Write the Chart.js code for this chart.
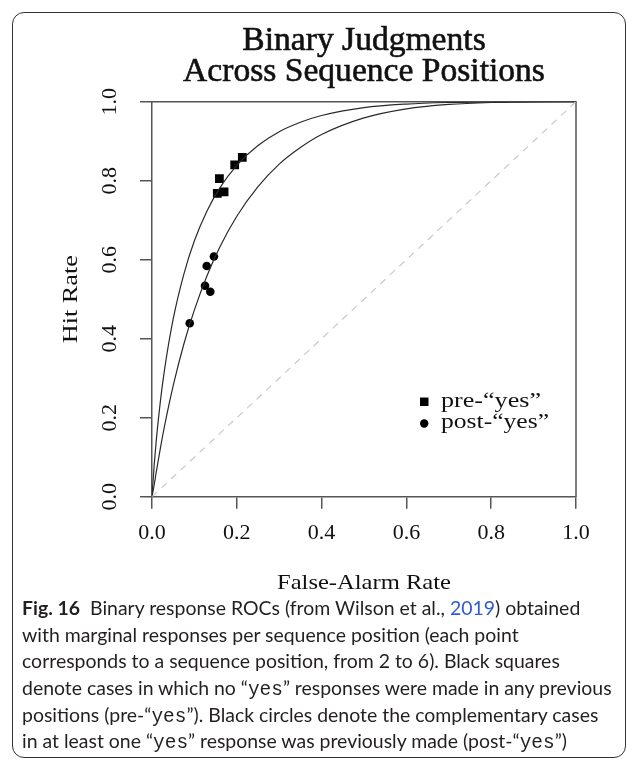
<!DOCTYPE html>
<html><head><meta charset="utf-8">
<script src="https://cdn.jsdelivr.net/npm/chart.js@4.4.1/dist/chart.umd.min.js"></script>
<style>
html,body{margin:0;padding:0;background:#fff;}
#wrap{position:relative;width:637px;height:759px;overflow:hidden;background:#fff;}
#card{position:absolute;left:12px;top:12px;width:614px;height:746px;border:1.3px solid #333;border-radius:12px;box-sizing:border-box;}
#c{position:absolute;left:0;top:0;}
.cap{position:absolute;left:22px;white-space:nowrap;font-family:Lato,"Open Sans",sans-serif;font-size:17px;color:#231f20;line-height:26px;}
.cap b{font-weight:700}
.cap code{font-family:"Liberation Mono",monospace;font-size:1em;}
.blue{color:#2f5bd0}
</style></head>
<body>
<div id="wrap">
<div id="card"></div>
<canvas id="c" width="637" height="759"></canvas>
<div class="cap" style="top:595px"><b>Fig. 16</b>&nbsp; Binary response ROCs (from Wilson et al., <span class="blue">2019</span>) obtained</div>
<div class="cap" style="top:622px">with marginal responses per sequence position (each point</div>
<div class="cap" style="top:648px">corresponds to a sequence position, from 2 to 6). Black squares</div>
<div class="cap" id="longest" style="top:675px">denote cases in which no “<code>yes</code>” responses were made in any previous</div>
<div class="cap" style="top:702px">positions (pre-“<code>yes</code>”). Black circles denote the complementary cases</div>
<div class="cap" style="top:728px">in at least one “<code>yes</code>” response was previously made (post-“<code>yes</code>”)</div>
</div>
<script>
// ---- data ----
const titleLines = ['Binary Judgments', 'Across Sequence Positions'];
const xAxisTitle = 'False-Alarm Rate';
const yAxisTitle = 'Hit Rate';
const xTickLabels = ['0.0', '0.2', '0.4', '0.6', '0.8', '1.0'];
const yTickLabels = ['0.0', '0.2', '0.4', '0.6', '0.8', '1.0'];
const tickValues = [0, 0.2, 0.4, 0.6, 0.8, 1.0];

// fitted ROC curves
const curveFalseAlarm = [0, 0.005, 0.01, 0.02, 0.03, 0.05, 0.075, 0.1, 0.13, 0.16, 0.2, 0.25, 0.3, 0.35, 0.4, 0.5, 0.6, 0.7, 0.8, 0.9, 1.0];
const upperCurveHit = [0, 0.078, 0.142, 0.244, 0.325, 0.450, 0.563, 0.648, 0.724, 0.782, 0.839, 0.889, 0.924, 0.948, 0.965, 0.985, 0.994, 0.998, 0.9996, 1.0, 1.0];
const lowerCurveHit = [0, 0.029, 0.062, 0.124, 0.181, 0.281, 0.386, 0.473, 0.560, 0.632, 0.710, 0.785, 0.842, 0.884, 0.917, 0.959, 0.982, 0.993, 0.998, 0.9998, 1.0];

// chance diagonal
const chanceFalseAlarm = [0, 1];
const chanceHit = [0, 1];

// observed points
const preLabel = 'pre-“yes”';
const preFalseAlarm = [0.213, 0.195, 0.159, 0.154, 0.170];
const preHit = [0.859, 0.840, 0.805, 0.768, 0.772];
const postLabel = 'post-“yes”';
const postFalseAlarm = [0.146, 0.129, 0.125, 0.1375, 0.089];
const postHit = [0.608, 0.584, 0.534, 0.519, 0.439];

const pts = (xs, ys) => xs.map((x, i) => ({x: x, y: ys[i]}));

// fit caption font so the longest line spans like the reference
(function fitCaption() {
  const el = document.getElementById('longest');
  const w = el.getBoundingClientRect().width;
  const fs = 17 * 590 / w;
  document.querySelectorAll('.cap').forEach(d => { d.style.fontSize = fs.toFixed(2) + 'px'; });
})();

const SERIF = '"Liberation Serif", "DejaVu Serif", serif';
const AXIS_COLOR = '#555';

// draw text stretched horizontally to a target width (serif fallback is narrower than the original)
function fitText(ctx, text, x, y, targetW, align) {
  const w = ctx.measureText(text).width;
  const k = targetW / w;
  ctx.save();
  ctx.translate(x, y);
  ctx.scale(k, 1);
  ctx.textAlign = align;
  ctx.fillText(text, 0, 0);
  ctx.restore();
}

const decor = {
  id: 'decor',
  beforeDatasetsDraw(chart) {
    const {ctx, chartArea: a} = chart;
    ctx.save();
    ctx.strokeStyle = AXIS_COLOR;
    ctx.lineWidth = 1.5;
    ctx.beginPath();
    ctx.moveTo(a.left, a.top); ctx.lineTo(a.right, a.top); ctx.lineTo(a.right, a.bottom);
    ctx.stroke();
    ctx.restore();
  },
  afterDraw(chart) {
    const {ctx, chartArea: a, scales} = chart;
    const cx = (a.left + a.right) / 2;
    ctx.save();
    ctx.fillStyle = '#111';
    // title
    ctx.textAlign = 'center';
    ctx.textBaseline = 'alphabetic';
    let fs = 26;
    ctx.font = fs + 'px ' + SERIF;
    const w = ctx.measureText(titleLines[1]).width;
    fs = fs * 362 / w;
    ctx.font = fs.toFixed(2) + 'px ' + SERIF;
    ctx.lineWidth = 0.6;
    ctx.strokeStyle = '#111';
    ctx.fillText(titleLines[0], cx, 50);
    ctx.strokeText(titleLines[0], cx, 50);
    ctx.fillText(titleLines[1], cx, 81);
    ctx.strokeText(titleLines[1], cx, 81);
    // tick labels
    ctx.font = '22px ' + SERIF;
    ctx.textBaseline = 'middle';
    tickValues.forEach((v, i) => {
      ctx.fillText(xTickLabels[i], scales.x.getPixelForValue(v), 533);
    });
    tickValues.forEach((v, i) => {
      ctx.save();
      ctx.translate(110, scales.y.getPixelForValue(v));
      ctx.rotate(-Math.PI / 2);
      ctx.fillText(yTickLabels[i], 0, 0);
      ctx.restore();
    });
    // axis titles
    fitText(ctx, xAxisTitle, cx, 583, 174, 'center');
    ctx.save();
    ctx.translate(71, (a.top + a.bottom) / 2);
    ctx.rotate(-Math.PI / 2);
    fitText(ctx, yAxisTitle, 0, 0, 88, 'center');
    ctx.restore();
    // legend
    ctx.fillStyle = '#000';
    ctx.fillRect(420, 397.5, 8.5, 8.5);
    ctx.beginPath(); ctx.arc(424.2, 423.5, 4.2, 0, Math.PI * 2); ctx.fill();
    ctx.fillStyle = '#111';
    ctx.font = '21px ' + SERIF;
    fitText(ctx, preLabel, 441, 401, 100, 'left');
    fitText(ctx, postLabel, 441, 422, 108, 'left');
    ctx.restore();
  }
};

const axisCommon = {
  type: 'linear', min: 0, max: 1,
  ticks: {display: false, stepSize: 0.2},
  grid: {display: true, drawOnChartArea: false, drawTicks: true, tickLength: 12, color: AXIS_COLOR, lineWidth: 1.5},
  border: {display: true, color: AXIS_COLOR, width: 1.5}
};

new Chart(document.getElementById('c'), {
  type: 'scatter',
  data: {
    datasets: [
      {label: 'chance', data: pts(chanceFalseAlarm, chanceHit), showLine: true, pointRadius: 0,
       borderColor: '#c9c9c9', borderWidth: 1.2, borderDash: [7, 6]},
      {label: 'upper', data: pts(curveFalseAlarm, upperCurveHit), showLine: true, pointRadius: 0,
       borderColor: '#2a2a2a', borderWidth: 1.2, cubicInterpolationMode: 'monotone'},
      {label: 'lower', data: pts(curveFalseAlarm, lowerCurveHit), showLine: true, pointRadius: 0,
       borderColor: '#2a2a2a', borderWidth: 1.2, cubicInterpolationMode: 'monotone'},
      {label: preLabel, data: pts(preFalseAlarm, preHit), pointStyle: 'rect', pointRadius: 6.2,
       backgroundColor: '#000', borderColor: '#000', borderWidth: 0},
      {label: postLabel, data: pts(postFalseAlarm, postHit), pointStyle: 'circle', pointRadius: 4.3,
       backgroundColor: '#000', borderColor: '#000', borderWidth: 0}
    ]
  },
  options: {
    responsive: false, devicePixelRatio: 1, animation: false,
    layout: {padding: {left: 0, top: 101.7, right: 61, bottom: 232.3}},
    plugins: {legend: {display: false}, tooltip: {enabled: false}, title: {display: false}},
    scales: {
      x: Object.assign({}, axisCommon, {position: 'bottom', afterFit: s => { s.height = 30; }}),
      y: Object.assign({}, axisCommon, {position: 'left', afterFit: s => { s.width = 152; }})
    }
  },
  plugins: [decor]
});
</script>
</body></html>
